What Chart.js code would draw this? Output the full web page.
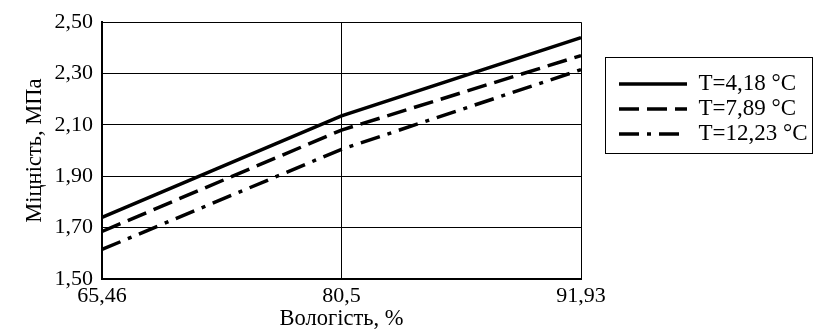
<!DOCTYPE html>
<html>
<head>
<meta charset="utf-8">
<script src="https://cdn.jsdelivr.net/npm/chart.js@4"></script>
<style>
  body { margin: 0; background: #fff; }
  #wrap { width: 820px; height: 332px; }
</style>
</head>
<body>
<div id="wrap"><canvas id="myChart"></canvas></div>
<script>
var humidity = ["65,46", "80,5", "91,93"];
var seriesNames = ["T=4,18 °C", "T=7,89 °C", "T=12,23 °C"];
var t418 = [1.74, 2.135, 2.44];
var t789 = [1.685, 2.08, 2.37];
var t1223 = [1.615, 2.005, 2.315];
var yTicks = [1.5, 1.7, 1.9, 2.1, 2.3, 2.5];

var serif = "'Liberation Serif', 'Times New Roman', serif";

// move legend into its own framed box on the right
var legendBox = {
  id: "legendBox",
  afterLayout(chart) {
    var lg = chart.legend;
    var w = lg.width, h = lg.height;
    lg.left = 617;
    lg.top = 70.5;
    lg.right = lg.left + w;
    lg.bottom = lg.top + h;
  },
  afterDraw(chart) {
    var lg = chart.legend;
    var ctx = chart.ctx;
    var n = lg.legendItems.length;
    var rows = n * 25;
    ctx.save();
    ctx.strokeStyle = "#000";
    ctx.lineWidth = 1;
    ctx.setLineDash([]);
    ctx.strokeRect(lg.left - 11.5, lg.top - 13, 207, rows + 21);
    ctx.restore();
  }
};

function line(label, data, dash) {
  return {
    label: label,
    data: data,
    borderColor: "#000",
    backgroundColor: "#000",
    borderWidth: 3.5,
    borderDash: dash,
    pointRadius: 0,
    tension: 0,
    fill: false
  };
}

const ctx = document.getElementById("myChart");
new Chart(ctx, {
  type: "line",
  data: {
    labels: humidity,
    datasets: [
      line(seriesNames[0], t418, []),
      line(seriesNames[1], t789, [20, 8]),
      line(seriesNames[2], t1223, [20, 8, 4, 8])
    ]
  },
  options: {
    responsive: true,
    maintainAspectRatio: false,
    animation: false,
    layout: { padding: { top: 16, right: 239, left: 0, bottom: 0 } },
    plugins: {
      legend: {
        position: "chartArea",
        align: "start",
        labels: {
          usePointStyle: true,
          pointStyle: "line",
          pointStyleWidth: 68,
          padding: 2,
          color: "#000",
          font: { family: serif, size: 23 },
          generateLabels(chart) {
            var items = Chart.defaults.plugins.legend.labels.generateLabels(chart);
            items.forEach((it) => {
              var ds = chart.data.datasets[it.datasetIndex];
              it.lineDash = ds.borderDash;
              it.lineWidth = ds.borderWidth;
              it.strokeStyle = ds.borderColor;
            });
            return items;
          }
        }
      },
      tooltip: { enabled: false }
    },
    scales: {
      x: {
        afterFit(scale) { scale.height = 53; },
        grid: {
          drawTicks: false,
          color: (c) => (c.index > 0 ? "#000" : "rgba(0,0,0,0)"),
          lineWidth: 1
        },
        border: { color: "#000", width: 2 },
        ticks: { color: "#000", padding: 4, font: { family: serif, size: 22 }, maxRotation: 0 },
        title: {
          display: true,
          text: "Вологість, %",
          color: "#000",
          padding: { top: 0, bottom: -1 },
          font: { family: serif, size: 22.5 }
        }
      },
      y: {
        min: 1.5,
        max: 2.5,
        afterFit(scale) { scale.width = 102; },
        afterBuildTicks(scale) {
          scale.ticks = yTicks.map((v) => ({ value: v }));
        },
        grid: { drawTicks: false, color: "#000", lineWidth: 1 },
        border: { color: "#000", width: 2 },
        ticks: {
          color: "#000",
          padding: 9,
          font: { family: serif, size: 22 },
          callback: (v) => v.toFixed(2).replace(".", ",")
        },
        title: {
          display: true,
          text: "Міцність, МПа",
          color: "#000",
          padding: { top: 22, bottom: 0 },
          font: { family: serif, size: 22.5 }
        }
      }
    }
  },
  plugins: [legendBox]
});
</script>
</body>
</html>
